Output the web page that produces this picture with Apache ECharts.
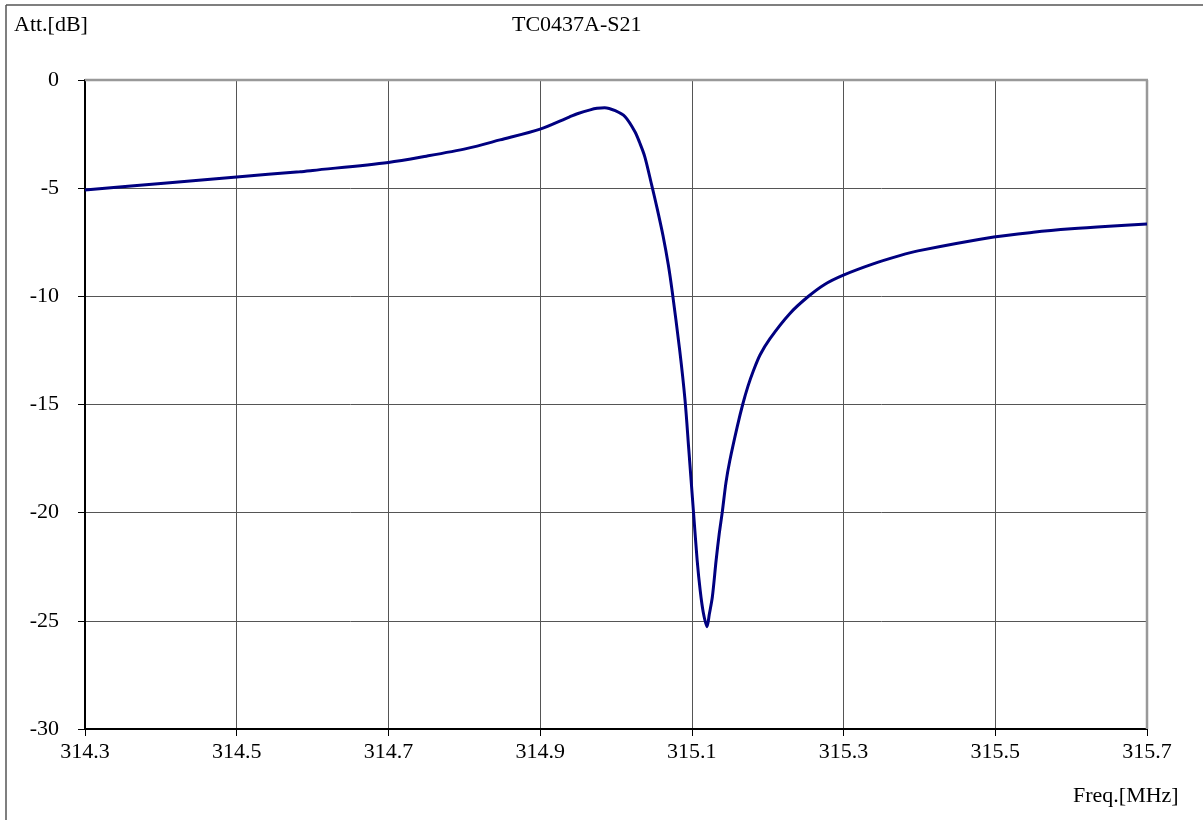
<!DOCTYPE html>
<html>
<head>
<meta charset="utf-8">
<script src="https://cdn.jsdelivr.net/npm/echarts@6/dist/echarts.min.js"></script>
<style>
html,body{margin:0;padding:0;background:#fff;}
#chart{width:1203px;height:820px;}
</style>
</head>
<body>
<div id="chart"></div>
<script>
const freqMHz = [314.300, 314.400, 314.500, 314.583, 314.600, 314.700, 314.750, 314.804, 314.847, 314.900,
  314.939, 314.950, 314.966, 314.975, 314.985, 314.999, 315.012, 315.025, 315.031, 315.038, 315.047,
  315.054, 315.062, 315.069, 315.074, 315.084, 315.091, 315.096, 315.102, 315.107, 315.111,
  315.115, 315.120, 315.123, 315.127, 315.132, 315.136, 315.140, 315.145, 315.150, 315.160,
  315.167, 315.174, 315.181, 315.190, 315.203, 315.229, 315.253, 315.275, 315.299, 315.339,
  315.374, 315.398, 315.498, 315.550, 315.600, 315.650, 315.700];
const attDB = [-5.08, -4.78, -4.48, -4.24, -4.18, -3.81, -3.52, -3.16, -2.77, -2.27,
  -1.70, -1.55, -1.38, -1.31, -1.28, -1.42, -1.70, -2.39, -2.88, -3.55, -4.85,
  -5.90, -7.20, -8.55, -9.75, -12.50, -14.80, -17.10, -19.90, -22.20, -23.60,
  -24.60, -25.27, -24.70, -23.90, -22.20, -21.00, -20.00, -18.60, -17.60, -16.00,
  -15.00, -14.15, -13.45, -12.70, -11.95, -10.80, -10.02, -9.45, -9.03, -8.50,
  -8.12, -7.90, -7.26, -7.04, -6.88, -6.76, -6.66];
const xTicks = [314.3, 314.5, 314.7, 314.9, 315.1, 315.3, 315.5, 315.7];
const yTicks = [0, -5, -10, -15, -20, -25, -30];
const chartTitle = 'TC0437A-S21';
const yName = 'Att.[dB]';
const xName = 'Freq.[MHz]';

const FONT = '"Liberation Serif", "DejaVu Serif", serif';
const chart = echarts.init(document.getElementById('chart'), null, {renderer: 'canvas'});
const option = {
  backgroundColor: '#ffffff',
  animation: false,
  grid: {left: 85, right: 56, top: 80, bottom: 91, containLabel: false},
  graphic: [
    {type: 'line', shape: {x1: 6, y1: 5, x2: 1203, y2: 5}, style: {stroke: '#555', lineWidth: 1.5}},
    {type: 'line', shape: {x1: 6, y1: 5, x2: 6, y2: 820}, style: {stroke: '#555', lineWidth: 1.5}},
    {type: 'line', shape: {x1: 1147, y1: 80, x2: 1147, y2: 729}, style: {stroke: '#999', lineWidth: 2.5}, z: 5},
    {type: 'line', shape: {x1: 85, y1: 80, x2: 1148, y2: 80}, style: {stroke: '#999', lineWidth: 2.5}, z: 5},
    {type: 'text', left: 512, top: 14, style: {text: chartTitle, font: '22px ' + FONT, fill: '#000'}},
    {type: 'text', left: 14, top: 14, style: {text: yName, font: '22px ' + FONT, fill: '#000'}},
    {type: 'text', left: 1073, top: 785, style: {text: xName, font: '22px ' + FONT, fill: '#000'}}
  ],
  xAxis: {
    type: 'value', min: xTicks[0], max: xTicks[xTicks.length - 1], interval: 0.2,
    axisLine: {show: true, onZero: false, lineStyle: {color: '#000', width: 2}},
    axisTick: {show: true, inside: false, length: 7, lineStyle: {color: '#000', width: 1}},
    axisLabel: {color: '#000', fontFamily: FONT, fontSize: 22, margin: 12,
      formatter: v => (Math.round(v * 10) / 10).toFixed(1)},
    splitLine: {show: true, lineStyle: {color: '#555', width: 1}}
  },
  yAxis: {
    type: 'value', min: yTicks[yTicks.length - 1], max: yTicks[0], interval: 5,
    axisLine: {show: true, onZero: false, lineStyle: {color: '#000', width: 2}},
    axisTick: {show: true, inside: false, length: 7, lineStyle: {color: '#000', width: 1}},
    axisLabel: {color: '#000', fontFamily: FONT, fontSize: 22, margin: 26},
    splitLine: {show: true, lineStyle: {color: '#555', width: 1}}
  },
  series: [{
    type: 'line', data: freqMHz.map((f, i) => [f, attDB[i]]),
    showSymbol: false, smooth: 0.3,
    lineStyle: {color: '#000080', width: 3}, z: 10
  }]
};
chart.setOption(option);
</script>
</body>
</html>
